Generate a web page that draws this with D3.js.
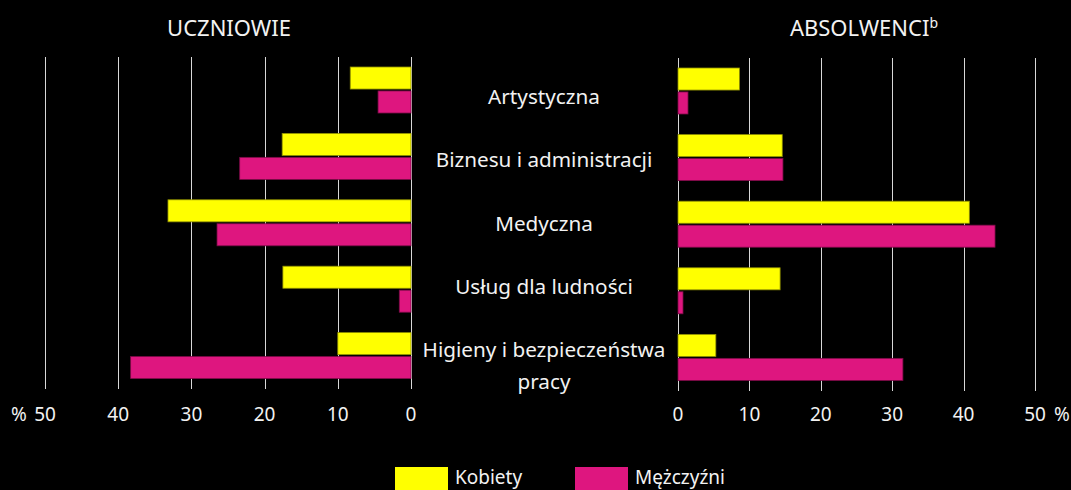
<!DOCTYPE html>
<html>
<head>
<meta charset="utf-8">
<script src="https://cdn.jsdelivr.net/npm/d3@7"></script>
<style>
  body { margin: 0; background: #000; }
  text { font-family: "Noto Sans", sans-serif; fill: #f2f2f2; }
</style>
</head>
<body>
<svg></svg>
<script>
var width = 1071,
    height = 490;

// data
var categories = ["Artystyczna", "Biznesu i administracji", "Medyczna", "Usług dla ludności", "Higieny i bezpieczeństwa\npracy"];
var series = ["Kobiety", "Mężczyźni"];
var uczKobiety = [8.3, 17.6, 33.2, 17.5, 10.0];
var uczMezczyzni = [4.5, 23.4, 26.5, 1.6, 38.3];
var absKobiety = [8.6, 14.6, 40.8, 14.3, 5.3];
var absMezczyzni = [1.4, 14.7, 44.4, 0.7, 31.5];
var ticks = [0, 10, 20, 30, 40, 50];

var colors = ["#ffff00", "#de167f"];

var svg = d3.select("svg")
    .attr("width", width)
    .attr("height", height);

function panel(opts) {
    var x = d3.scaleLinear().domain([0, 50]).range(opts.xRange);
    var y = d3.scaleBand().domain(categories).range(opts.yRange);
    var y1 = d3.scaleBand().domain(series).range([10, 56]).paddingInner(0.08);
    var g = svg.append("g");

    g.selectAll(".grid")
        .data(ticks)
        .enter()
        .append("line")
        .attr("x1", function(d) { return Math.round(x(d)) + 0.5; })
        .attr("x2", function(d) { return Math.round(x(d)) + 0.5; })
        .attr("y1", opts.yRange[0])
        .attr("y2", opts.yRange[1])
        .attr("stroke", "#d8d8d8")
        .attr("stroke-width", 1);

    var rows = opts.values.map(function(vals, si) {
        return vals.map(function(v, i) {
            return {cat: categories[i], s: series[si], v: v, c: colors[si]};
        });
    });
    rows = [].concat.apply([], rows);

    g.selectAll(".bar")
        .data(rows)
        .enter()
        .append("rect")
        .attr("x", function(d) { return Math.min(x(0), x(d.v)); })
        .attr("width", function(d) { return Math.abs(x(d.v) - x(0)); })
        .attr("y", function(d) { return y(d.cat) + y1(d.s); })
        .attr("height", y1.bandwidth())
        .attr("fill", function(d) { return d.c; })
        .attr("stroke", function(d) { return d3.color(d.c).darker(1.6); })
        .attr("stroke-width", 0.8);

    g.selectAll(".tick")
        .data(ticks)
        .enter()
        .append("text")
        .attr("x", function(d) { return x(d); })
        .attr("y", 421)
        .attr("text-anchor", "middle")
        .attr("font-size", 19)
        .text(function(d) { return d; });

    g.append("text")
        .attr("x", opts.pctX)
        .attr("y", 421)
        .attr("text-anchor", "middle")
        .attr("font-size", 19)
        .text("%");

    var title = g.append("text")
        .attr("x", opts.titleX)
        .attr("y", 36)
        .attr("text-anchor", "middle")
        .attr("font-size", 22)
        .text(opts.title);
    if (opts.sup) {
        title.append("tspan")
            .attr("font-size", 14)
            .attr("dy", -8)
            .text(opts.sup);
    }
}

panel({
    xRange: [411, 45],
    yRange: [57, 389],
    values: [uczKobiety, uczMezczyzni],
    title: "UCZNIOWIE",
    titleX: 229,
    pctX: 19
});

panel({
    xRange: [678, 1035],
    yRange: [58, 391],
    values: [absKobiety, absMezczyzni],
    title: "ABSOLWENCI",
    sup: "b",
    titleX: 864,
    pctX: 1062
});

// category labels
var labelY = d3.scalePoint().domain(categories).range([104, 357]);
categories.forEach(function(c) {
    var lines = c.split("\n");
    var t = svg.append("text")
        .attr("x", 544)
        .attr("y", labelY(c))
        .attr("text-anchor", "middle")
        .attr("font-size", 20.7);
    lines.forEach(function(l, i) {
        t.append("tspan")
            .attr("x", 544)
            .attr("dy", i == 0 ? 0 : 32)
            .text(l);
    });
});

// legend
var legend = svg.append("g");
var legendX = [395, 575];
series.forEach(function(s, i) {
    legend.append("rect")
        .attr("x", legendX[i])
        .attr("y", 467)
        .attr("width", 53)
        .attr("height", 30)
        .attr("fill", colors[i]);
    legend.append("text")
        .attr("x", legendX[i] + 60)
        .attr("y", 484)
        .attr("font-size", 19)
        .text(s);
});
</script>
</body>
</html>
